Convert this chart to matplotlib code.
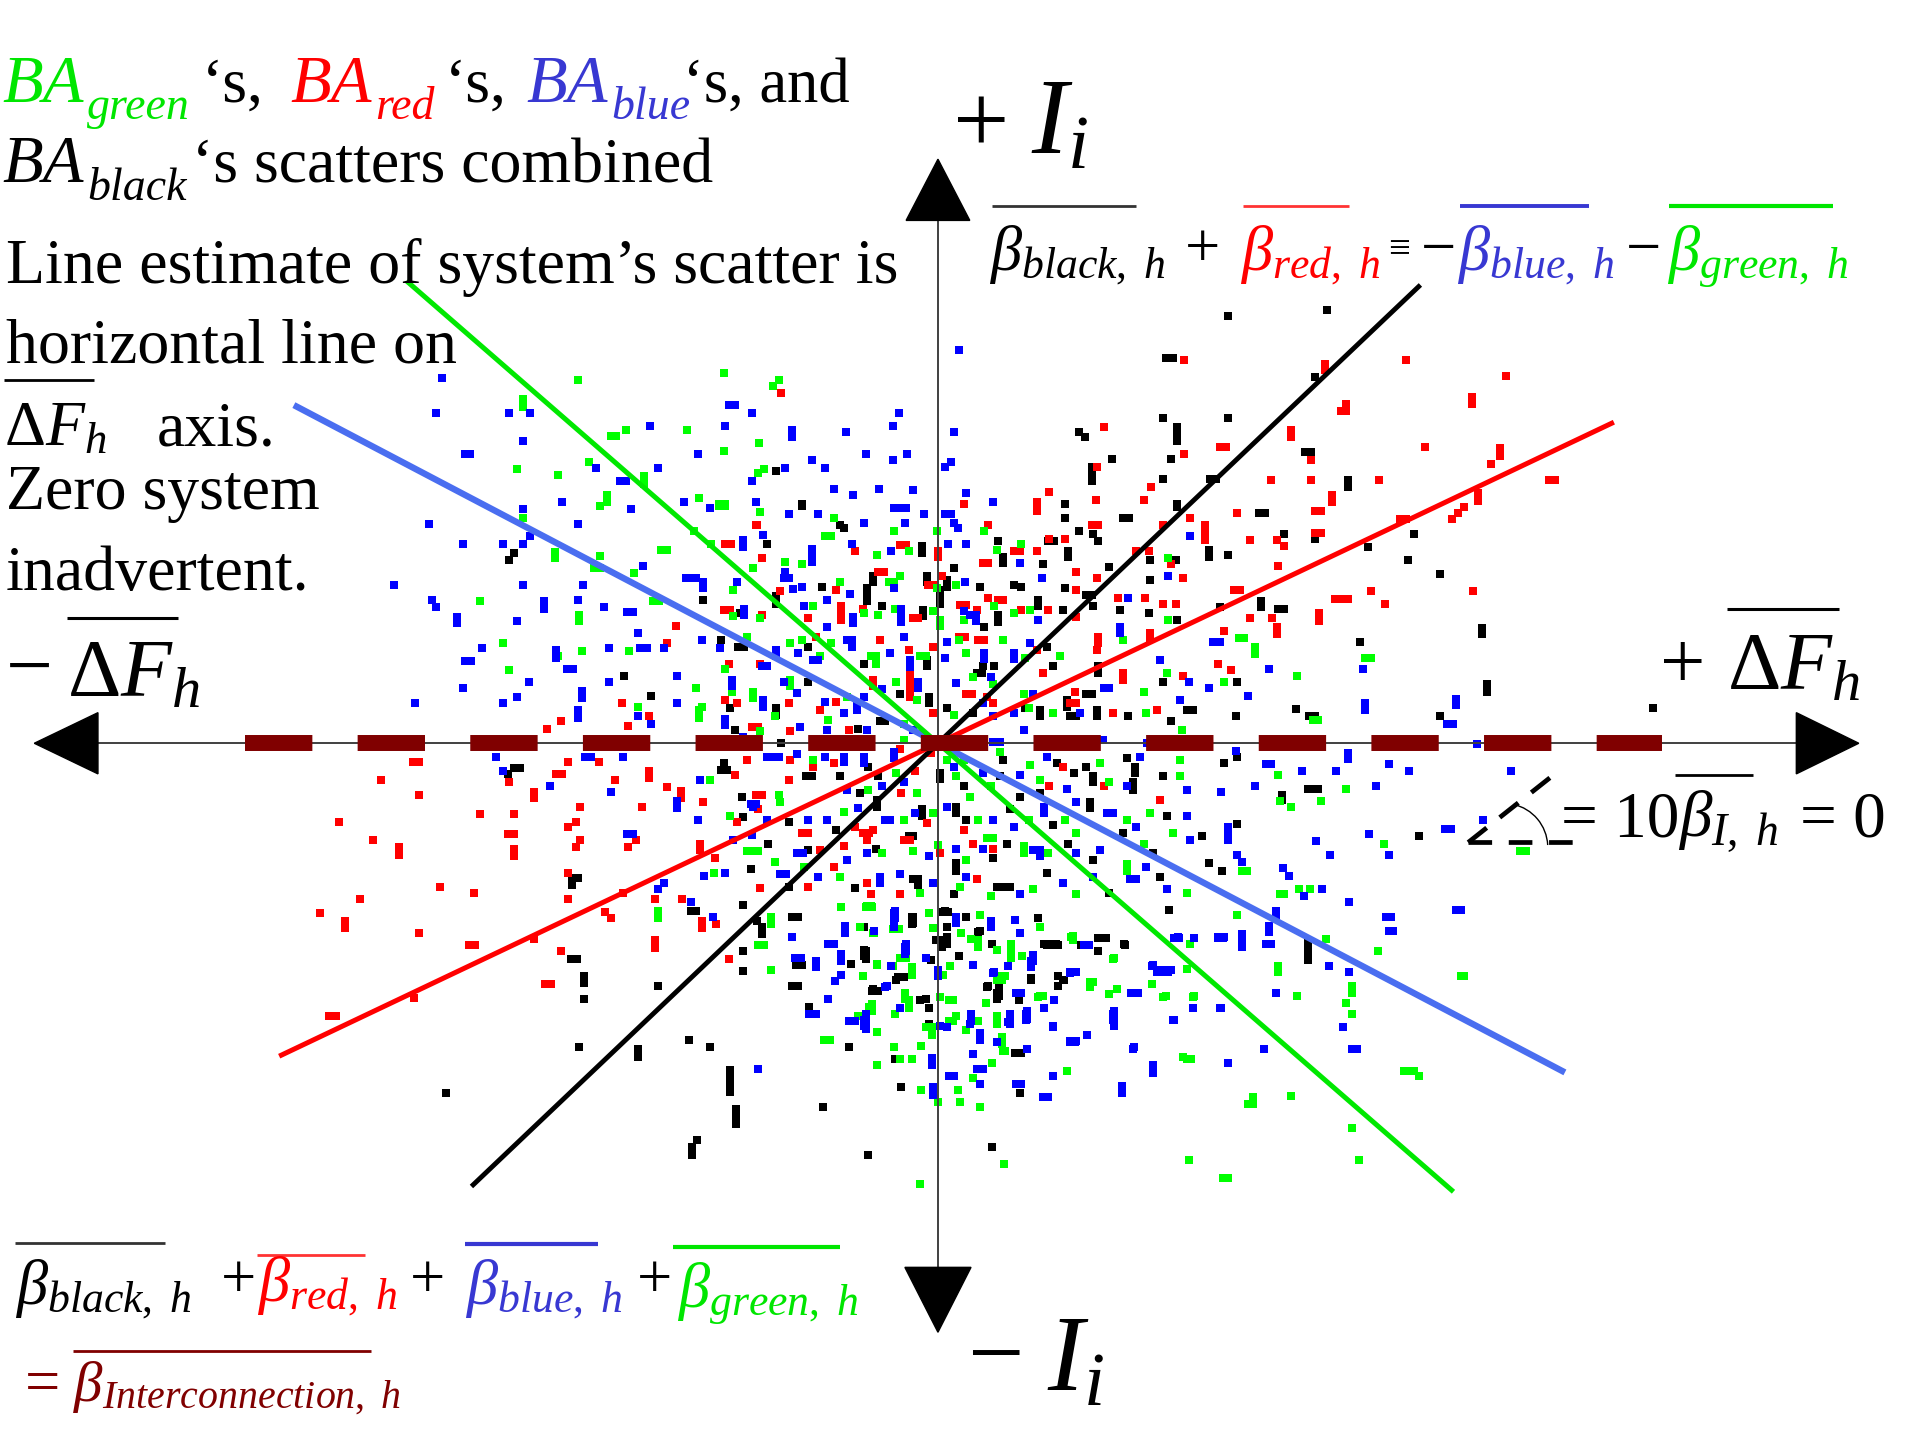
import numpy as np
import matplotlib
matplotlib.use('Agg')
import matplotlib.pyplot as plt
from matplotlib.lines import Line2D
from matplotlib.patches import Arc

plt.rcParams['font.family'] = ['Liberation Serif', 'DejaVu Serif']
plt.rcParams['mathtext.fontset'] = 'custom'
plt.rcParams['mathtext.rm'] = 'Liberation Serif'
plt.rcParams['mathtext.it'] = 'Liberation Serif:italic'
plt.rcParams['mathtext.bf'] = 'Liberation Serif:bold'
plt.rcParams['lines.scale_dashes'] = False

# scatter of the four balancing areas (x = delta F, y = I), one list per area
green_pts = [
    (-2.94, 2.97), (-3.39, 2.75), (-3.39, 2.81), (-1.75, 3.02), (-1.30, 2.97), (-1.35, 2.92), (-2.55, 2.56),
    (-2.67, 2.51), (-2.63, 2.51), (-2.05, 2.56), (-1.46, 2.45), (-1.75, 2.39), (-3.44, 2.24), (-3.10, 2.19),
    (-2.85, 2.30), (-2.40, 2.18), (-2.40, 2.12), (-1.47, 2.21), (-1.42, 2.24), (-2.70, 2.03), (-2.70, 1.97),
    (-2.76, 1.94), (-1.95, 2.00), (-1.79, 1.94), (-1.74, 1.94), (-1.45, 1.89), (-3.39, 1.84), (-3.13, 1.56),
    (-3.13, 1.51), (-2.76, 1.53), (-2.81, 1.43), (-2.76, 1.43), (-2.26, 1.58), (-2.21, 1.58), (-1.99, 1.73),
    (-2.48, 1.39), (-3.74, 1.16), (-2.33, 1.16), (-2.28, 1.16), (-2.93, 1.05), (-2.93, 1.00), (-3.55, 0.82),
    (-2.91, 0.75), (-3.10, 0.71), (-2.52, 0.75), (-3.50, 0.60), (-2.45, 0.30), (-1.98, 0.45), (-1.95, 0.27),
    (-1.95, 0.21),
    (2.46, 0.86), (2.50, 0.86), (2.59, 0.79), (2.59, 0.73), (3.54, 0.70), (3.49, 0.70), (2.93, 0.55),
    (2.34, 0.50), (3.10, 0.19), (3.06, 0.19),
    (-2.29, -1.37), (-2.29, -1.43), (-1.47, -1.65), (-1.42, -1.65), (-1.36, -1.85), (-0.93, -2.42),
    (-0.88, -2.42), (-0.50, -2.36), (-0.61, -1.90), (-0.50, -1.81), (-0.37, -1.82), (-0.31, -1.75),
    (-0.26, -1.75), (-0.21, -1.83), (-0.21, -1.89), (-0.24, -2.10), (-0.24, -2.16), (-0.54, -2.13),
    (-0.54, -2.19), (-0.35, -2.21), (-0.10, -2.32), (-0.05, -2.32), (-0.05, -2.38), (-0.14, -2.47),
    (-0.21, -2.58), (-0.31, -2.58), (-0.50, -2.63), (-0.14, -2.83), (0.00, -2.93), (-0.15, -3.60),
    (-0.37, -1.52), (-0.32, -1.52), (-0.52, -1.55), (-0.04, -1.51), (-0.79, -1.34), (-0.59, -1.34),
    (-0.54, -1.34), (-1.36, -1.42), (-1.36, -1.48),
    (2.78, -0.26), (3.33, -0.37), (3.13, -0.47), (2.79, -0.47), (2.88, -0.52), (3.64, -0.82), (4.75, -0.88),
    (4.80, -0.88), (2.52, -1.04), (2.48, -1.04), (2.79, -1.23), (2.83, -1.23), (2.95, -1.19), (3.04, -1.19),
    (2.44, -1.40), (3.59, -1.70), (2.78, -1.82), (2.78, -1.87), (3.17, -1.60), (4.30, -1.90), (4.27, -1.90),
    (3.38, -1.98), (3.38, -2.04), (3.33, -2.12), (3.38, -2.21), (2.93, -2.06), (3.81, -2.68), (3.85, -2.68),
    (3.89, -2.68), (3.93, -2.72), (2.57, -2.89), (2.57, -2.95), (2.53, -2.95), (2.88, -2.88), (3.38, -3.14),
    (3.44, -3.40), (2.05, -3.40), (2.37, -3.55), (2.33, -3.55), (0.54, -3.44), (2.07, -2.58), (2.03, -2.58),
    (1.75, -1.97), (1.86, -2.06), (2.09, -2.06), (1.40, -2.05), (1.24, -1.95), (1.27, -1.95), (0.83, -2.06),
    (0.86, -2.06), (0.52, -1.90), (0.55, -1.90), (0.39, -2.12), (0.09, -2.10), (0.12, -2.10), (0.09, -2.27),
    (0.12, -2.27), (0.48, -2.29), (0.48, -2.23), (0.52, -2.46), (0.52, -2.40), (0.55, -2.51), (0.44, -2.61),
    (0.29, -2.73), (0.16, -2.83), (0.18, -2.93), (0.34, -2.97), (1.05, -2.68), (1.44, -1.75), (1.10, -1.57),
    (1.10, -1.61), (2.06, -1.64), (0.69, -1.74), (0.60, -1.70), (0.60, -1.64), (0.04, -1.89), (0.27, -1.60),
    (0.34, -1.40),
    (-0.58, -1.33), (-0.55, -1.33), (-0.64, -1.50), (-0.53, -1.55), (-0.07, -1.39), (0.19, -1.55),
    (-0.50, -1.80), (-0.21, -1.85), (0.10, -1.82), (0.33, -1.66), (0.33, -1.61), (0.83, -1.50), (1.09, -1.58),
    (0.48, -1.69), (0.60, -1.75), (1.43, -1.76), (2.03, -1.84), (0.52, -1.93), (0.48, -1.93), (1.24, -1.99),
    (0.82, -2.07), (0.48, -2.23), (0.33, -2.27), (0.02, -2.07), (0.15, -2.23), (-0.27, -2.04), (-0.27, -2.09),
    (-0.56, -2.15), (-0.65, -2.23), (-0.36, -2.48), (0.23, -2.34), (0.53, -2.51), (2.08, -2.07), (2.00, -2.56),
    (1.46, -2.01), (1.84, -2.07),
    (-1.79, 1.95), (-1.74, 1.95), (-1.45, 1.89), (-0.85, 1.84), (-0.01, 1.73), (0.38, 1.73), (-1.85, 1.63),
    (-1.25, 1.48), (-1.51, 1.43), (-0.92, 1.69), (-0.87, 1.69), (-0.50, 1.54), (-0.36, 1.73), (-0.24, 1.57),
    (0.48, 1.58), (0.68, 1.63), (-1.11, 1.46), (1.88, 1.51), (-1.67, 1.25), (-0.80, 1.32), (-0.40, 1.32),
    (-0.36, 1.32), (-0.31, 1.37), (-0.01, 1.27), (0.15, 1.29), (-1.67, 1.04), (-1.45, 1.02), (-1.02, 1.12),
    (-0.60, 1.06), (-0.49, 1.05), (-0.35, 1.10), (-0.04, 1.08), (0.02, 1.01), (0.02, 0.96), (0.21, 1.01),
    (0.46, 1.12), (0.75, 1.09), (0.62, 1.06), (1.88, 1.01), (-1.74, 0.61), (-1.56, 0.87), (-1.21, 0.82),
    (-1.11, 0.84), (-0.87, 0.82), (-0.96, 0.71), (-0.55, 0.71), (-0.51, 0.71), (-0.51, 0.65), (-0.15, 0.71),
    (-0.10, 0.71), (0.17, 0.84), (0.23, 0.74), (0.53, 0.84), (0.71, 0.70), (1.00, 0.71), (1.51, 0.84),
    (1.87, 0.57), (-1.68, 0.42), (-1.51, 0.42), (-1.51, 0.37), (-1.21, 0.52), (-1.21, 0.47), (-0.74, 0.38),
    (-0.34, 0.50), (-0.17, 0.35), (0.29, 0.54), (0.45, 0.48), (0.70, 0.40), (1.68, 0.42), (-1.93, 0.30),
    (-1.45, 0.10), (-1.33, 0.22), (-0.90, 0.19), (-0.28, 0.16), (0.13, 0.23), (0.74, 0.29), (0.94, 0.25),
    (1.70, 0.25), (1.99, 0.11), (-1.02, -0.14), (-0.28, 0.03), (0.07, -0.14), (0.21, -0.14), (0.51, -0.07),
    (0.75, -0.18), (1.32, -0.16), (1.98, -0.14), (-1.86, -0.30), (-1.30, -0.42), (-0.57, -0.38),
    (-0.34, -0.24), (-0.17, -0.41), (0.15, -0.27), (0.26, -0.44), (0.43, -0.35), (0.83, -0.30), (1.40, -0.32),
    (1.98, -0.27), (-1.70, -0.59), (-1.29, -0.48), (-1.56, -0.88), (-1.51, -0.88), (-1.47, -0.88),
    (-0.77, -0.56), (-0.28, -0.63), (-0.04, -0.57), (0.33, -0.63), (0.74, -0.63), (1.04, -0.63), (1.54, -0.63),
    (1.73, -0.57), (-1.33, -0.97), (-1.09, -1.01), (-0.46, -0.90), (-0.20, -0.88), (0.00, -0.83), (0.23, -0.95),
    (0.40, -0.77), (0.45, -0.77), (0.70, -0.84), (0.70, -0.90), (0.90, -0.90), (1.13, -0.73), (1.54, -0.99),
    (1.54, -1.04), (1.92, -0.73), (1.68, -0.82), (-1.83, -1.06), (-0.80, -1.09), (-0.15, -1.22), (0.18, -1.17),
    (0.43, -1.25), (0.78, -1.19), (1.13, -1.23), (2.03, -1.22),
]

red_pts = [
    (-1.28, 2.86), (-1.48, 1.78), (-2.14, 0.96), (-2.21, 0.82), (-2.58, 0.33), (-2.36, 0.22), (-3.08, 0.18),
    (-3.19, 0.12), (-2.53, 0.14),
    (2.01, 3.13), (3.16, 3.10), (3.16, 3.05), (3.82, 3.13), (4.64, 3.00), (4.36, 2.83), (4.36, 2.77),
    (3.29, 2.71), (3.33, 2.71), (3.33, 2.77), (1.36, 2.58), (2.88, 2.56), (2.88, 2.50), (2.30, 2.42),
    (2.35, 2.42), (2.01, 2.36), (3.98, 2.42), (4.59, 2.41), (4.59, 2.35), (4.52, 2.28), (3.05, 2.31),
    (1.30, 2.26), (1.74, 2.09), (2.72, 2.15), (3.05, 2.15), (3.60, 2.15), (4.99, 2.15), (5.04, 2.15),
    (4.41, 2.04), (4.41, 1.98), (3.22, 2.03), (3.22, 1.97), (0.91, 2.05), (0.81, 1.97), (0.81, 1.91),
    (1.29, 1.99), (1.68, 1.99), (3.13, 1.90), (3.08, 1.90), (2.44, 1.88), (4.30, 1.93), (4.25, 1.88),
    (4.20, 1.83), (3.77, 1.83), (3.82, 1.83), (3.13, 1.72), (3.08, 1.72), (2.18, 1.78), (2.18, 1.72),
    (2.18, 1.66), (2.55, 1.66), (2.77, 1.66), (2.83, 1.61), (2.78, 1.45), (3.54, 1.24), (4.37, 1.24),
    (3.24, 1.18), (3.29, 1.18), (3.35, 1.18), (3.65, 1.14), (3.11, 1.06), (3.11, 1.00), (2.42, 1.25),
    (2.47, 1.25), (2.55, 1.02), (2.77, 0.95), (2.77, 0.89), (2.73, 1.02), (2.34, 0.92), (2.39, 0.60),
    (2.29, 0.65),
    (-4.29, -0.15), (-4.24, -0.15), (-4.55, -0.30), (-4.24, -0.42), (-4.89, -0.64), (-4.61, -0.79),
    (-4.40, -0.91), (-4.40, -0.85), (-3.74, -0.58), (-3.46, -0.58), (-3.51, -0.74), (-3.46, -0.74),
    (-3.46, -0.92), (-3.46, -0.86), (-4.07, -1.17), (-3.79, -1.22), (-4.72, -1.27), (-5.05, -1.39),
    (-4.84, -1.51), (-4.84, -1.45), (-4.24, -1.55), (-3.83, -1.65), (-3.78, -1.65), (-3.30, -1.60),
    (-3.08, -1.70), (-3.21, -1.97), (-3.16, -1.97), (-4.28, -2.08), (-4.97, -2.23), (-4.92, -2.23),
    (-3.02, -0.15), (-2.77, -0.15), (-3.12, -0.25), (-3.07, -0.25), (-3.50, -0.32), (-3.30, -0.45),
    (-3.30, -0.40), (-2.92, -0.52), (-2.64, -0.30), (-2.42, -0.52), (-2.36, -0.28), (-2.36, -0.23),
    (-2.21, -0.36), (-2.10, -0.39), (-2.10, -0.45), (-3.02, -0.68), (-2.96, -0.64), (-2.92, -0.79),
    (-2.96, -0.85), (-2.53, -0.85), (-2.47, -0.79), (-3.02, -1.06), (-3.02, -1.27), (-2.31, -1.27),
    (-2.09, -1.27), (-2.72, -1.38), (-2.67, -1.43), (-2.57, -1.22), (-2.31, -1.67), (-2.31, -1.61),
    (-1.93, -1.51), (-1.93, -1.45), (-1.81, -1.48), (-1.71, -1.76),
    (-1.49, 1.78), (0.21, 1.95), (0.81, 1.95), (0.81, 1.90), (1.31, 1.78), (1.26, 1.78), (1.84, 1.78),
    (2.06, 1.84), (0.41, 1.78), (-1.74, 1.63), (-1.69, 1.63), (-1.44, 1.51), (-0.68, 1.57), (-0.31, 1.62),
    (-0.26, 1.62), (0.00, 1.57), (0.00, 1.52), (0.62, 1.57), (0.67, 1.57), (0.91, 1.67), (1.04, 1.67),
    (1.62, 1.57), (1.72, 1.57), (1.90, 1.46), (0.81, 1.57), (0.37, 1.47), (0.41, 1.47), (-1.29, 1.24),
    (-0.83, 1.25), (-0.49, 1.40), (-0.44, 1.40), (-0.08, 1.29), (-0.03, 1.29), (0.03, 1.37), (0.41, 1.19),
    (0.49, 1.17), (0.53, 1.17), (1.13, 1.40), (1.30, 1.35), (1.13, 1.25), (1.47, 1.19), (1.69, 1.19),
    (2.00, 1.35), (-1.75, 1.09), (-1.70, 1.09), (-1.44, 1.05), (-1.06, 1.02), (-0.79, 1.12), (-0.79, 1.07),
    (-0.79, 1.01), (-0.61, 1.10), (-0.20, 1.02), (-0.16, 1.02), (0.18, 1.13), (0.23, 1.13), (0.32, 1.09),
    (0.68, 1.09), (0.90, 1.09), (1.13, 1.03), (1.94, 1.14), (1.84, 1.14), (-1.71, 0.65), (-1.45, 0.65),
    (-1.00, 0.87), (-0.47, 0.84), (-0.24, 0.76), (-0.04, 0.79), (0.17, 0.87), (0.22, 0.87), (0.33, 0.84),
    (0.38, 0.84), (0.81, 0.76), (1.31, 0.87), (1.31, 0.82), (1.30, 0.76), (1.73, 0.90), (1.73, 0.85),
    (2.00, 0.55), (-1.74, 0.35), (-1.64, 0.33), (-1.22, 0.33), (-0.96, 0.27), (-0.83, 0.34), (-0.53, 0.52),
    (-0.53, 0.47), (-0.23, 0.60), (-0.23, 0.55), (-0.23, 0.49), (-0.23, 0.44), (-0.23, 0.38), (0.23, 0.40),
    (0.28, 0.40), (0.40, 0.38), (0.86, 0.57), (1.12, 0.42), (1.51, 0.57), (1.51, 0.52), (1.79, 0.27),
    (-1.52, 0.13), (-1.47, 0.13), (-1.21, 0.10), (-0.73, 0.11), (-0.04, 0.25), (0.45, 0.33), (1.08, 0.33),
    (1.13, 0.33), (1.43, 0.25), (-1.56, -0.14), (-1.21, -0.14), (-1.93, -0.03), (-0.85, -0.16),
    (-0.31, -0.05), (-0.06, -0.08), (0.32, -0.03), (1.02, -0.19), (-1.66, -0.26), (-1.92, -0.48),
    (-1.49, -0.42), (-1.44, -0.42), (-1.22, -0.30), (-1.02, -0.19), (-0.19, -0.23), (-0.30, -0.41),
    (0.91, -0.35), (1.36, -0.35), (-1.64, -0.64), (-1.47, -0.54), (-1.11, -0.73), (-1.06, -0.73),
    (-0.68, -0.68), (-0.53, -0.71), (-0.09, -0.65), (0.21, -0.71), (1.81, -0.46), (-1.82, -0.94),
    (-0.96, -0.87), (-0.77, -0.84), (-0.61, -0.73), (-0.56, -0.73), (-0.58, -0.79), (-0.28, -0.79),
    (-0.23, -0.79), (0.02, -0.90), (0.29, -0.82), (0.45, -0.86), (-1.94, -0.87), (-1.94, -0.82),
    (-1.06, -1.17), (-1.45, -1.18), (-0.85, -1.01), (-0.58, -1.14), (-0.55, -1.23), (-0.31, -1.23),
    (0.32, -1.11),
]

blue_pts = [
    (-4.05, 2.98), (-4.10, 2.70), (-3.50, 2.70), (-3.33, 2.70), (-3.39, 2.47), (-3.86, 2.36), (-3.82, 2.36),
    (-2.35, 2.59), (-1.74, 2.59), (-1.71, 2.76), (-1.66, 2.76), (-1.52, 2.70), (-1.19, 2.56), (-1.19, 2.50),
    (-0.75, 2.54), (-0.32, 2.70), (-0.37, 2.59), (-1.96, 2.36), (-1.25, 2.25), (-0.92, 2.25), (-1.03, 2.31),
    (-0.59, 2.36), (-0.25, 2.36), (-0.37, 2.31), (-2.29, 2.25), (-2.79, 2.25), (-2.60, 2.14), (-2.55, 2.14),
    (-1.52, 2.14), (-3.07, 1.97), (-3.39, 1.91), (-2.51, 1.91), (-2.07, 1.97), (-1.49, 1.97), (-0.85, 2.08),
    (-0.69, 2.03), (-0.48, 2.08), (-0.20, 2.07), (-4.16, 1.79), (-2.94, 1.79), (-3.33, 1.69), (-3.88, 1.63),
    (-3.55, 1.63), (-3.39, 1.63), (-2.41, 1.45), (-4.44, 1.29), (-3.39, 1.29), (-2.90, 1.29), (-1.98, 1.35),
    (-2.02, 1.35), (-2.06, 1.35), (-4.13, 1.17), (-4.10, 1.11), (-3.93, 1.03), (-3.93, 0.98), (-3.44, 1.00),
    (-3.22, 1.16), (-3.22, 1.10), (-2.94, 1.17), (-2.73, 1.11), (-2.54, 1.07), (-2.49, 1.07), (-2.45, 0.90),
    (-3.72, 0.78), (-3.86, 0.67), (-3.81, 0.67), (-3.12, 0.76), (-3.12, 0.70), (-3.03, 0.61), (-2.98, 0.61),
    (-2.69, 0.78), (-2.43, 0.78), (-2.38, 0.78), (-2.24, 0.78), (-3.88, 0.45), (-3.34, 0.50), (-2.91, 0.43),
    (-2.91, 0.37), (-2.69, 0.50), (-2.13, 0.55), (-4.27, 0.33), (-3.55, 0.33), (-3.44, 0.38), (-2.94, 0.27),
    (-2.94, 0.21), (-2.45, 0.22), (-2.34, 0.16), (-2.13, 0.33),
    (0.17, 3.21), (0.13, 2.54), (0.11, 2.30), (0.06, 2.26), (0.23, 2.04), (2.30, 0.83), (2.25, 0.83),
    (2.70, 0.61), (2.53, 0.39), (2.21, 0.45), (3.47, 0.61), (3.49, 0.33), (3.49, 0.27), (4.23, 0.36),
    (4.23, 0.31), (4.21, 0.16), (4.16, 0.16), (4.40, -0.01), (4.45, -0.63),
    (-3.61, -0.11), (-2.88, -0.11), (-2.83, -0.11), (-2.57, -0.11), (-3.55, -0.23), (-3.17, -0.35),
    (-2.67, -0.40), (-2.13, -0.53), (-2.13, -0.47), (-1.96, -0.63), (-2.54, -0.74), (-2.49, -0.74),
    (-2.29, -1.19), (-2.24, -1.14), (-2.02, -1.30), (-1.84, -1.42), (-1.91, -1.08), (-1.19, -1.58),
    (-0.90, -1.64), (-0.85, -1.64), (-0.79, -1.72), (-0.79, -1.78), (-1.17, -1.75), (-1.12, -1.75),
    (-1.00, -1.78), (-1.00, -1.83), (-0.79, -1.89), (-0.84, -1.94), (-1.05, -2.21), (-1.00, -2.21),
    (-0.90, -2.09), (-0.73, -2.27), (-0.68, -2.27), (-0.59, -2.21), (-0.59, -2.27), (-0.59, -2.33),
    (-0.42, -1.98), (-0.31, -2.16), (-0.26, -1.64), (-0.26, -1.70), (-0.10, -1.75), (-1.47, -2.66),
    (-0.05, -2.57), (-0.05, -2.63), (-0.04, -2.81), (-0.04, -2.87), (-0.76, -1.55), (-0.76, -1.49),
    (-0.35, -1.37), (-0.35, -1.43), (-0.52, -1.53),
    (2.43, -0.06), (3.35, -0.08), (3.35, -0.13), (2.68, -0.17), (2.72, -0.17), (2.97, -0.23), (3.25, -0.23),
    (3.68, -0.17), (3.85, -0.23), (4.68, -0.23), (3.58, -0.35), (2.59, -0.35), (2.31, -0.40), (3.52, -0.74),
    (3.09, -0.80), (4.14, -0.70), (4.19, -0.70), (3.20, -0.91), (3.68, -0.91), (2.37, -0.74), (2.37, -0.68),
    (2.37, -0.79), (2.44, -0.91), (2.48, -0.97), (2.82, -1.02), (2.87, -1.08), (3.14, -1.19), (2.99, -1.25),
    (3.36, -1.30), (4.27, -1.36), (4.23, -1.36), (3.70, -1.42), (3.66, -1.42), (3.72, -1.53), (3.68, -1.53),
    (2.76, -1.37), (2.76, -1.43), (2.70, -1.49), (2.70, -1.54), (2.48, -1.56), (2.48, -1.62), (2.68, -1.64),
    (2.72, -1.64), (2.29, -1.58), (2.34, -1.58), (3.19, -1.82), (3.36, -1.87), (2.76, -2.04), (2.31, -2.16),
    (3.31, -2.32), (3.38, -2.50), (3.42, -2.50), (2.66, -2.50), (2.37, -2.61), (1.75, -1.82), (1.79, -1.87),
    (1.84, -1.87), (1.88, -1.87), (1.58, -2.04), (1.63, -2.04), (1.76, -2.63), (1.76, -2.69), (1.59, -2.50),
    (1.50, -2.86), (1.50, -2.80), (1.93, -2.26), (1.44, -2.19), (1.44, -2.25), (1.44, -2.31), (1.08, -2.43),
    (1.13, -2.43), (1.22, -2.38), (0.94, -2.32), (0.73, -2.19), (0.73, -2.25), (0.87, -2.16), (0.59, -2.27),
    (0.59, -2.21), (0.64, -2.78), (0.68, -2.78), (0.86, -2.89), (0.90, -2.89), (0.94, -2.72), (0.32, -2.66),
    (0.37, -2.66), (0.09, -2.72), (0.13, -2.72), (0.34, -2.78), (0.73, -2.50), (0.29, -2.54), (0.34, -2.42),
    (0.34, -2.37), (0.64, -2.04), (0.68, -2.04), (0.57, -2.28), (0.27, -2.27), (0.27, -2.21), (0.07, -2.32),
    (1.08, -1.87), (1.13, -1.87), (0.46, -1.87), (0.76, -1.83), (0.76, -1.78), (0.29, -1.81), (0.57, -1.82),
    (0.95, -2.10), (1.97, -1.59), (1.93, -1.59), (2.09, -1.59),
    (-0.36, -1.39), (-0.36, -1.45), (-0.36, -1.50), (0.15, -1.42), (0.15, -1.47), (-0.27, -1.66),
    (-0.27, -1.72), (-0.38, -1.82), (0.00, -1.85), (0.00, -1.90), (0.43, -1.50), (0.43, -1.45), (0.63, -1.44),
    (0.67, -1.55), (1.19, -1.65), (1.23, -1.65), (0.78, -1.73), (0.78, -1.78), (1.76, -1.81), (1.80, -1.85),
    (1.85, -1.85), (1.90, -1.85), (1.96, -1.58), (2.29, -1.59), (2.33, -1.59), (2.48, -1.61), (2.48, -1.66),
    (0.45, -1.88), (1.08, -1.88), (1.58, -2.04), (1.62, -2.04), (0.64, -2.04), (0.72, -2.21), (0.72, -2.26),
    (0.59, -2.29), (0.26, -2.29), (-0.31, -2.16), (-0.43, -1.99), (-0.60, -2.26), (-0.60, -2.31),
    (0.02, -2.31), (0.48, -2.44), (0.94, -2.31), (1.08, -2.44), (1.12, -2.44), (1.43, -2.21), (1.43, -2.26),
    (1.22, -2.38), (2.08, -2.16), (2.30, -2.16), (1.92, -2.26), (1.60, -2.48),
    (-1.86, 1.92), (-1.49, 1.97), (-0.98, 1.87), (-0.60, 1.80), (-1.22, 1.87), (-0.36, 1.92), (-0.31, 1.92),
    (-0.26, 1.92), (-0.27, 1.80), (-0.11, 1.87), (0.06, 1.87), (0.11, 1.87), (0.13, 1.80), (0.16, 1.76),
    (0.45, 1.97), (-1.59, 1.66), (-1.59, 1.60), (-1.43, 1.70), (-1.03, 1.59), (-1.03, 1.53), (-1.03, 1.48),
    (-0.70, 1.63), (-0.38, 1.57), (0.08, 1.63), (0.23, 1.63), (0.67, 1.47), (2.06, 1.69), (-1.25, 1.40),
    (-1.92, 1.32), (-1.92, 1.27), (-1.64, 1.32), (-1.26, 1.35), (-1.22, 1.35), (-1.18, 1.26), (-1.11, 1.28),
    (-0.91, 1.17), (-0.72, 1.22), (-0.36, 1.27), (0.22, 1.32), (0.85, 1.35), (1.55, 1.19), (1.88, 1.37),
    (-1.58, 1.10), (-1.58, 1.05), (-1.09, 1.12), (-0.91, 0.95), (-0.69, 1.03), (-0.69, 0.98), (-0.30, 1.10),
    (-0.30, 1.05), (-0.30, 0.99), (0.21, 1.08), (0.26, 1.05), (0.31, 1.05), (0.31, 1.00), (0.82, 1.01),
    (1.49, 0.95), (1.49, 0.90), (-1.93, 0.84), (-1.78, 0.78), (-1.44, 0.63), (-1.40, 0.63), (-1.32, 0.76),
    (-1.32, 0.71), (-1.14, 0.74), (-1.02, 0.68), (-0.98, 0.68), (-0.74, 0.84), (-0.70, 0.84), (-0.70, 0.79),
    (-0.39, 0.74), (-0.28, 0.87), (-0.23, 0.68), (-0.23, 0.62), (0.06, 0.70), (0.07, 0.83), (0.38, 0.74),
    (0.38, 0.69), (0.62, 0.74), (0.62, 0.69), (0.75, 0.82), (1.81, 0.68), (2.05, 0.50), (-1.68, 0.52),
    (-1.68, 0.47), (-1.43, 0.35), (-1.43, 0.30), (-1.26, 0.50), (-1.15, 0.41), (-0.92, 0.34), (-0.66, 0.33),
    (-0.66, 0.27), (-0.60, 0.38), (-0.46, 0.44), (-0.16, 0.50), (-0.16, 0.45), (0.15, 0.49), (0.43, 0.54),
    (0.78, 0.40), (1.36, 0.45), (1.40, 0.45), (1.98, 0.35), (-1.74, 0.20), (-1.74, 0.15), (-1.13, 0.13),
    (-0.91, 0.11), (-0.77, 0.25), (-0.58, 0.11), (-0.20, 0.11), (0.37, 0.33), (0.45, 0.22), (0.62, 0.25),
    (0.70, 0.11), (1.16, 0.25), (-1.59, 0.05), (-1.40, -0.11), (-1.35, -0.11), (-1.30, -0.11), (-1.15, -0.09),
    (-0.92, -0.11), (-0.77, -0.11), (-0.77, -0.15), (-0.60, -0.11), (-0.60, -0.16), (-0.36, -0.07),
    (-0.36, -0.12), (0.13, -0.19), (0.45, 0.01), (0.51, 0.01), (0.89, -0.11), (1.35, 0.03), (1.65, -0.11),
    (1.71, 0.00), (-1.94, -0.30), (-1.53, -0.50), (-1.49, -0.50), (-0.74, -0.38), (-0.46, -0.35),
    (-0.28, -0.32), (0.37, -0.24), (0.67, -0.26), (1.05, -0.37), (1.54, -0.35), (2.03, -0.38), (-1.51, -0.52),
    (-1.40, -0.63), (-1.06, -0.63), (-0.91, -0.63), (-0.65, -0.53), (-0.43, -0.63), (-0.39, -0.63),
    (-0.19, -0.57), (0.07, -0.52), (0.45, -0.63), (0.62, -0.68), (0.87, -0.52), (0.87, -0.57), (1.13, -0.48),
    (1.38, -0.57), (1.43, -0.57), (1.62, -0.68), (2.03, -0.59), (-1.67, -0.79), (-1.52, -0.75), (-1.15, -0.90),
    (-1.10, -0.90), (-0.74, -0.95), (-0.58, -0.90), (-0.07, -0.92), (0.15, -0.86), (0.37, -0.86), (0.78, -0.87),
    (0.83, -0.87), (0.83, -0.92), (1.13, -0.90), (1.32, -0.87), (1.70, -1.01), (2.06, -0.79), (-1.74, -1.06),
    (-1.29, -1.07), (-1.24, -1.07), (-0.98, -1.09), (-0.47, -1.09), (-0.47, -1.14), (-0.31, -1.07),
    (-0.04, -1.14), (0.23, -1.09), (0.67, -1.23), (1.02, -1.14), (1.27, -1.09), (1.57, -1.11), (1.62, -1.11),
    (1.87, -1.19),
]

black_pts = [
    (-1.32, 2.22), (-1.11, 1.94), (-3.50, 1.50), (-3.46, 1.55), (-2.56, 0.55), (-2.34, 0.39),
    (2.37, 3.49), (3.18, 3.54), (1.86, 3.15), (1.92, 3.15), (3.08, 2.99), (1.84, 2.66), (2.37, 2.66),
    (1.95, 2.58), (1.95, 2.52), (1.95, 2.47), (1.15, 2.54), (1.20, 2.50), (1.42, 2.32), (1.90, 2.32),
    (1.26, 2.26), (1.26, 2.20), (1.26, 2.14), (3.05, 2.38), (3.00, 2.38), (1.84, 2.16), (2.22, 2.16),
    (2.27, 2.16), (3.35, 2.15), (3.35, 2.09), (1.95, 1.93), (2.62, 1.88), (2.67, 1.88), (2.83, 1.71),
    (3.08, 1.67), (2.21, 1.58), (2.21, 1.52), (2.37, 1.54), (3.51, 1.60), (3.89, 1.71), (3.84, 1.50),
    (4.10, 1.38), (2.64, 1.16), (2.64, 1.11), (2.78, 1.10), (2.83, 1.10), (2.30, 1.11), (4.44, 0.94),
    (4.44, 0.89), (3.45, 0.83), (2.44, 0.50), (4.48, 0.48), (4.48, 0.42), (4.10, 0.22), (2.92, 0.28),
    (3.03, 0.22), (3.08, 0.22), (2.43, 0.22), (5.84, 0.29),
    (-3.46, -0.20), (-3.41, -0.20), (-3.51, -0.25), (-2.99, -1.10), (-2.99, -1.16), (-2.94, -1.10),
    (-3.00, -1.76), (-2.95, -1.76), (-2.89, -1.96), (-2.89, -1.90), (-2.89, -2.09), (-2.29, -1.98),
    (-2.93, -2.48), (-2.45, -2.56), (-2.45, -2.50), (-2.03, -2.42), (-1.86, -2.48), (-1.70, -2.67),
    (-1.70, -2.73), (-1.70, -2.79), (-1.70, -2.85), (-1.65, -2.99), (-1.65, -3.05), (-1.65, -3.11),
    (-4.02, -2.86), (-1.97, -3.24), (-2.01, -3.30), (-2.01, -3.36), (-0.57, -3.36), (-0.94, -2.97),
    (-0.73, -2.48), (-0.30, -2.81), (-0.35, -2.58), (-1.98, -1.37), (-2.02, -1.37), (-1.59, -1.86),
    (-1.59, -1.70), (-1.44, -1.56), (-1.44, -1.50), (-1.48, -1.45), (-1.19, -1.42), (-1.14, -1.42),
    (-1.19, -1.98), (-1.14, -1.98), (-1.59, -1.32), (-1.05, -2.15), (-0.54, -2.02), (-0.49, -2.02),
    (-0.33, -1.91), (-0.28, -1.91), (-0.59, -1.70), (-0.59, -1.76), (-0.71, -1.80), (-1.16, -1.81),
    (-1.11, -1.81), (-0.07, -2.29), (-0.10, -2.09), (-0.21, -1.42), (-0.21, -1.48),
    (2.44, -0.11), (2.34, -0.16), (3.02, -0.37), (3.06, -0.37), (3.10, -0.37), (2.81, -0.42), (2.81, -0.46),
    (2.44, -0.66), (2.16, -0.76), (2.21, -0.98), (2.32, -1.04), (3.93, -0.76), (3.02, -1.61), (3.02, -1.66),
    (3.02, -1.72), (3.02, -1.77), (1.89, -1.36), (1.52, -1.64), (1.31, -1.70), (1.33, -1.59), (1.37, -1.59),
    (1.17, -1.65), (1.22, -1.65), (0.87, -1.64), (0.91, -1.64), (0.96, -1.64), (1.03, -1.93), (0.98, -1.98),
    (0.76, -1.93), (0.66, -2.09), (0.50, -2.06), (0.50, -2.00), (0.41, -1.98), (0.64, -2.53), (0.68, -2.53),
    (0.67, -2.86), (0.44, -3.30), (0.07, -1.64), (0.07, -1.58), (0.06, -1.37), (0.23, -1.42), (0.34, -1.53),
    (0.44, -1.64),
    (-0.60, -1.50), (-0.20, -1.42), (-0.20, -1.47), (0.04, -1.38), (0.08, -1.38), (0.07, -1.50),
    (-0.02, -1.61), (0.03, -1.61), (0.03, -1.66), (-0.60, -1.74), (-0.60, -1.69), (-0.06, -1.77),
    (0.17, -1.74), (0.33, -1.54), (0.82, -1.43), (0.89, -1.65), (0.94, -1.65), (0.98, -1.65), (1.31, -1.59),
    (1.31, -1.70), (1.53, -1.65), (0.76, -1.92), (1.02, -1.93), (0.98, -1.90), (0.48, -2.04), (0.48, -2.09),
    (0.40, -1.99), (0.66, -2.10), (-0.15, -2.10), (-0.07, -2.16), (-0.53, -2.01), (-0.34, -1.93),
    (0.63, -2.53), (0.67, -2.53),
    (-1.11, 1.95), (-0.80, 1.78), (-0.77, 1.76), (1.04, 1.95), (1.04, 1.84), (1.51, 1.84), (1.56, 1.84),
    (1.95, 1.95), (1.15, 1.73), (-1.40, 1.63), (-0.13, 1.61), (-0.13, 1.55), (0.49, 1.65), (0.53, 1.52),
    (0.53, 1.47), (0.90, 1.65), (0.95, 1.65), (1.06, 1.57), (1.06, 1.52), (1.27, 1.71), (1.31, 1.65),
    (1.73, 1.50), (1.94, 1.50), (0.86, 1.46), (-1.92, 1.17), (-1.32, 1.20), (-1.32, 1.14), (-0.95, 1.28),
    (-0.58, 1.27), (-0.58, 1.22), (-0.58, 1.16), (-0.53, 1.37), (-0.53, 1.32), (-0.09, 1.37), (-0.09, 1.32),
    (0.02, 1.25), (0.02, 1.19), (0.02, 1.14), (0.07, 1.33), (0.07, 1.28), (0.13, 1.43), (0.34, 1.28),
    (0.68, 1.28), (0.62, 1.29), (1.04, 1.27), (1.21, 1.21), (1.26, 1.21), (1.40, 1.44), (1.73, 1.33),
    (0.82, 1.17), (0.82, 1.12), (-1.62, 1.06), (-0.46, 1.12), (-0.12, 1.09), (-0.12, 1.04), (0.38, 0.95),
    (0.49, 1.05), (0.49, 0.99), (1.02, 1.09), (1.27, 1.12), (1.49, 1.09), (1.72, 1.06), (1.95, 1.01),
    (-1.77, 0.84), (-1.63, 0.79), (-1.58, 0.79), (-1.06, 0.79), (-0.60, 0.65), (-0.09, 0.68), (-0.09, 0.63),
    (0.37, 0.63), (0.46, 0.63), (0.89, 0.79), (0.94, 0.63), (1.31, 0.63), (1.31, 0.57), (1.84, 0.50),
    (-1.32, 0.29), (-1.32, 0.23), (-1.06, 0.50), (-0.31, 0.40), (-0.07, 0.38), (-0.07, 0.33), (0.07, 0.29),
    (0.32, 0.57), (0.36, 0.57), (0.71, 0.29), (1.21, 0.40), (1.26, 0.40), (1.30, 0.27), (1.30, 0.22),
    (1.05, 0.35), (1.05, 0.30), (0.83, 0.27), (0.83, 0.22), (2.03, 0.27), (2.08, 0.27), (-1.70, 0.29),
    (-1.66, 0.11), (-0.65, 0.12), (-0.47, 0.18), (-0.43, 0.18), (0.29, 0.25), (1.08, 0.22), (1.13, 0.22),
    (1.55, 0.22), (1.90, 0.18), (-1.28, 0.00), (-1.75, -0.16), (-0.57, -0.19), (0.53, -0.14), (0.97, -0.16),
    (1.21, -0.19), (1.54, -0.12), (1.61, -0.19), (1.61, -0.24), (-1.77, -0.22), (-1.72, -0.22),
    (-1.60, -0.44), (-1.08, -0.27), (-1.03, -0.27), (-0.80, -0.27), (-0.49, -0.27), (-0.64, -0.41),
    (0.02, -0.24), (0.02, -0.29), (0.21, -0.35), (0.51, -0.27), (0.67, -0.44), (0.83, -0.41), (1.11, -0.24),
    (1.27, -0.27), (1.27, -0.32), (1.59, -0.32), (1.59, -0.38), (1.84, -0.27), (-1.59, -0.60), (-1.22, -0.64),
    (-0.83, -0.71), (-0.50, -0.46), (-0.50, -0.52), (-0.24, -0.76), (-0.20, -0.76), (-0.13, -0.54),
    (-0.13, -0.59), (0.15, -0.52), (0.15, -0.57), (0.23, -0.63), (0.59, -0.54), (0.94, -0.67), (1.24, -0.48),
    (1.24, -0.53), (1.51, -0.73), (1.87, -0.59), (-1.39, -0.82), (-1.06, -0.87), (-0.51, -0.86),
    (0.15, -0.98), (0.15, -1.04), (0.45, -0.94), (0.56, -0.82), (1.06, -0.82), (1.27, -0.95), (1.76, -0.90),
    (-1.53, -1.03), (-1.22, -1.17), (-0.68, -1.18), (-0.20, -1.11), (-0.16, -1.11), (-0.16, -1.16),
    (0.13, -1.23), (0.48, -1.17), (0.53, -1.17), (0.59, -1.17), (0.89, -1.06), (1.40, -1.22), (1.81, -1.09),
]

# line estimates of each area's scatter: slope and x range
beta_black, black_span = 0.95, (-3.81, 3.94)
beta_red, red_span = 0.475, (-5.38, 5.52)
beta_blue, blue_span = -0.525, (-5.26, 5.12)
beta_green, green_span = -0.87, (-4.34, 4.21)
beta_inter, inter_span = 0.0, (-5.66, 5.91)

GREEN, RED, BLUE, BLACK = '#00ff00', '#ff0000', '#0000ff', '#000000'
GREEN_T, RED_T, BLUE_T, MAROON = '#00e600', '#ff0000', '#3838d2', '#800000'

fig = plt.figure(figsize=(19.2, 14.4), dpi=100)
ax = fig.add_axes([0, 0, 1, 1])
ax.set_xlim(-7.66, 8.02)
ax.set_ylim(-5.69, 6.07)
ax.axis('off')

# axes with arrow heads
ax.plot([-6.9, 7.05], [0, 0], color='#404040', lw=1.4, zorder=2.5)
ax.plot([0, 0], [-4.3, 4.3], color='#404040', lw=1.4, zorder=2.5)
ax.fill([-7.38, -6.86, -6.86], [0, 0.25, -0.25], color='black', zorder=6)
ax.fill([7.52, 7.01, 7.01], [0, 0.25, -0.25], color='black', zorder=6)
ax.fill([0, -0.26, 0.26], [4.77, 4.27, 4.27], color='black', zorder=6)
ax.fill([0, -0.27, 0.27], [-4.81, -4.28, -4.28], color='black', zorder=6)

# scatters
for pts, c in [(black_pts, BLACK), (red_pts, RED), (green_pts, GREEN), (blue_pts, BLUE)]:
    arr = np.array(pts)
    ax.plot(arr[:, 0], arr[:, 1], ls='none', marker='s', ms=5.7, mew=0, color=c, zorder=2)

# line estimates through the origin
for beta, span, c, lw in [(beta_black, black_span, BLACK, 3.5),
                          (beta_red, red_span, RED, 3.6),
                          (beta_blue, blue_span, '#4a6ef0', 4.6),
                          (beta_green, green_span, '#00e800', 3.6)]:
    xs = np.array(span)
    ax.plot(xs, beta * xs, color=c, lw=lw, zorder=3, solid_capstyle='butt')

xs = np.array(inter_span)
ax.plot(xs, beta_inter * xs, color=MAROON, lw=11.5, dashes=(48.5, 32.6),
        dash_capstyle='butt', zorder=4)

# angle mark next to the +dF axis
ax.plot([4.33, 5.24], [-0.81, -0.81], color='black', lw=3.4, dashes=(17, 12), zorder=5)
ax.plot([4.33, 5.00], [-0.81, -0.28], color='black', lw=3.4, dashes=(17, 12), zorder=5)
ax.add_patch(Arc((4.62, -0.85), 0.72, 0.72, theta1=3, theta2=77, color='black', lw=1.0, zorder=5))

# text laid out on a 1568 x 1176 grid, y measured from the top
W, H = 1568.0, 1176.0


def put(x, y, s, size, color='black', style='normal'):
    fig.text(x / W, 1 - y / H, s, fontsize=size, color=color, ha='left', va='baseline',
             fontstyle=style)


def bar(x0, x1, y, color, lw):
    fig.add_artist(Line2D([x0 / W, x1 / W], [1 - y / H, 1 - y / H], transform=fig.transFigure,
                          color=color, lw=lw, solid_capstyle='butt'))


# "BA" names with deep subscripts
for x, y, sub, c in [(2, 83, 'green', GREEN_T), (237, 83, 'red', RED_T),
                     (430, 83, 'blue', BLUE_T), (2, 149, 'black', 'black')]:
    put(x, y, 'BA', 48, c, 'italic')
    put(x + 69, y + 14, sub, 33, c, 'italic')
put(165, 83, '‘s,', 46)
put(363, 83, '‘s,', 46)
put(558, 83, '‘s, and', 45)
put(157, 149, '‘s scatters combined', 46)

put(5, 231, 'Line estimate of system’s scatter is', 46)
put(5, 296, 'horizontal line on', 46)
put(3, 364, r'$\Delta F_{h}$', 46)
bar(3, 77, 310, 'black', 2)
put(128, 364, 'axis.', 46)
put(5, 416, 'Zero system', 46)
put(5, 482, 'inadvertent.', 46)

put(5, 566, '−', 60)
put(55, 568, r'$\Delta F_{h}$', 60)
bar(55, 145, 505, 'black', 2.2)
put(1356, 562, '+', 58)
put(1410, 562, r'$\Delta F_{h}$', 60)
bar(1410, 1502, 497, 'black', 2.2)

put(778, 125, '+', 72)
put(842, 125, r'$I_{i}$', 78)
put(790, 1132, '−', 72)
put(855, 1135, r'$I_{i}$', 78)

# sum of the area slopes, top right
bar(810, 928, 168, '#333333', 2)
put(808, 220, r'$\beta_{black,\ h}$', 45)
put(968, 218, '+', 45)
bar(1015, 1102, 168, '#ff3333', 2)
put(1013, 220, r'$\beta_{red,\ h}$', 45, RED_T)
put(1134, 212, '≡', 28)
put(1160, 218, '−', 45)
bar(1192, 1298, 168, BLUE_T, 2.8)
put(1190, 220, r'$\beta_{blue,\ h}$', 45, BLUE_T)
put(1328, 218, '−', 45)
bar(1363, 1497, 168, GREEN_T, 3)
put(1361, 220, r'$\beta_{green,\ h}$', 45, GREEN_T)

# interconnection slope, bottom left
bar(12, 135, 1015, '#333333', 2)
put(12, 1065, r'$\beta_{black,\ h}$', 45)
put(180, 1060, '+', 45)
bar(210, 298, 1025, '#ff3333', 2)
put(210, 1062, r'$\beta_{red,\ h}$', 45, RED_T)
put(335, 1060, '+', 45)
bar(380, 488, 1016, BLUE_T, 3)
put(380, 1065, r'$\beta_{blue,\ h}$', 45, BLUE_T)
put(520, 1060, '+', 45)
bar(550, 686, 1018, GREEN_T, 3)
put(553, 1067, r'$\beta_{green,\ h}$', 45, GREEN_T)
put(20, 1145, '=', 45, MAROON)
bar(60, 303, 1103, MAROON, 2)
put(60, 1145, r'$\beta_{Interconnection,\ h}$', 41, MAROON)

put(1275, 683, '= 10', 47)
bar(1368, 1432, 633, 'black', 2)
put(1370, 683, r'$\beta_{I,\ h}$', 47)
put(1470, 683, '= 0', 47)

fig.savefig('out.png', dpi=100, facecolor='white')
